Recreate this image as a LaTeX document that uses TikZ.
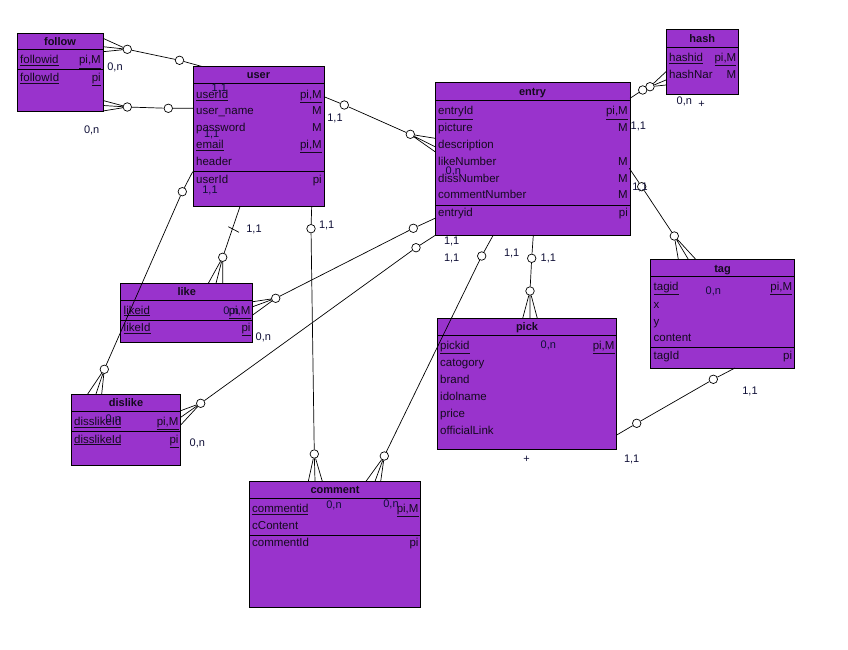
\documentclass[tikz,border=0pt]{standalone}
\usepackage{fontspec}
\setmainfont{Liberation Sans}
\definecolor{entfill}{RGB}{153,51,204}
\definecolor{txt}{RGB}{20,10,30}
\definecolor{lblc}{RGB}{15,15,55}
\newcommand\ELeft[4]{\node[att] (#1) at (#2,#3) {#4};}
\newcommand\ERight[4]{\node[attr] (#1) at (#2,#3) {#4};}
\newcommand\ELbl[4]{\node[lbl] (#1) at (#2,#3) {#4};}
\begin{document}
\begin{tikzpicture}[x=1pt,y=-1pt,
  ent/.style={draw=black, fill=entfill, line width=1pt, inner sep=0pt, outer sep=0pt, anchor=north west},
  divl/.style={line width=1pt},
  etitle/.style={font=\fontsize{11}{12}\selectfont\bfseries, anchor=base, yshift=-4pt, inner sep=0pt, text=txt},
  att/.style={font=\fontsize{11.5}{12}\selectfont, anchor=base west, yshift=-4pt, inner sep=0pt, text=txt},
  attr/.style={att, anchor=base east},
  lbl/.style={font=\fontsize{11}{12}\selectfont, anchor=base, yshift=-4pt, inner sep=0pt, text=lblc},
  circ/.style={circle, draw=black, fill=white, minimum size=8.5pt, inner sep=0pt, line width=0.7pt},
  rel/.style={line width=0.7pt, draw=black},
]
\fill[white] (0,0) rectangle (848,650);
\useasboundingbox (0,0) rectangle (848,650);

% ---------- follow ----------
\node[ent, minimum width=86pt, minimum height=78pt] (follow) at (17,34) {};
\draw[divl] (17,50) -- (103,50);
\draw[divl] (17,70) -- (103,70);
\node[etitle] (followT) at (60,42) {follow};
\ELeft{fo1}{20}{60}{\underline{followid}}
\ERight{fo1r}{101}{60}{\underline{pi,M}}
\ELeft{fo2}{20}{77.5}{\underline{followId}}
\ERight{fo2r}{101}{77.5}{\underline{pi}}

% ---------- user ----------
\node[ent, minimum width=131pt, minimum height=140pt] (user) at (193,66.5) {};
\draw[divl] (193,83.5) -- (324,83.5);
\draw[divl] (193,171.7) -- (324,171.7);
\node[etitle] (userT) at (258.5,75) {user};
\ELeft{us1}{196}{94.3}{\underline{userId}}
\ERight{us1r}{322}{94.3}{\underline{pi,M}}
\ELeft{us2}{196}{111}{user\_name}
\ERight{us2r}{322}{111}{M}
\ELeft{us3}{196}{127.7}{password}
\ERight{us3r}{322}{127.7}{M}
\ELeft{us4}{196}{144.6}{\underline{email}}
\ERight{us4r}{322}{144.6}{\underline{pi,M}}
\ELeft{us5}{196}{161.3}{header}
\ELeft{us6}{196}{179}{userId}
\ERight{us6r}{322}{179}{pi}

% ---------- entry ----------
\node[ent, minimum width=195pt, minimum height=152pt] (entry) at (435,83) {};
\draw[divl] (435,100.5) -- (630,100.5);
\draw[divl] (435,205.5) -- (630,205.5);
\node[etitle] (entryT) at (532.5,91.5) {entry};
\ELeft{en1}{438}{111}{\underline{entryId}}
\ERight{en1r}{628}{111}{\underline{pi,M}}
\ELeft{en2}{438}{127.7}{picture}
\ERight{en2r}{628}{127.7}{M}
\ELeft{en3}{438}{144.5}{description}
\ELeft{en4}{438}{161.3}{likeNumber}
\ERight{en4r}{628}{161.3}{M}
\ELeft{en5}{438}{178}{dissNumber}
\ERight{en5r}{628}{178}{M}
\ELeft{en6}{438}{194.8}{commentNumber}
\ERight{en6r}{628}{194.8}{M}
\ELeft{en7}{438}{212.5}{entryid}
\ERight{en7r}{628}{212.5}{pi}

% ---------- hash ----------
\node[ent, minimum width=72.5pt, minimum height=64.3pt] (hash) at (666,30) {};
\draw[divl] (666,47.5) -- (738.5,47.5);
\node[etitle] (hashT) at (702.3,38.7) {hash};
\ELeft{ha1}{669}{57.7}{\underline{hashid}}
\ERight{ha1r}{736.5}{57.7}{\underline{pi,M}}
\ELeft{ha2}{669}{75}{hashNar}
\ERight{ha2r}{736.5}{75}{M}

% ---------- like ----------
\node[ent, minimum width=132pt, minimum height=59.4pt] (like) at (120.7,283.3) {};
\draw[divl] (120.7,300) -- (252.7,300);
\draw[divl] (120.7,320) -- (252.7,320);
\node[etitle] (likeT) at (186.7,291.7) {like};
\ELeft{li1}{123.5}{310}{\underline{likeid}}
\ERight{li1r}{250.7}{310}{\underline{pi,M}}
\ELeft{li2}{123.5}{327.7}{\underline{likeId}}
\ERight{li2r}{250.7}{327.7}{\underline{pi}}

% ---------- dislike ----------
\node[ent, minimum width=109.4pt, minimum height=71.3pt] (dislike) at (71.3,394) {};
\draw[divl] (71.3,411.3) -- (180.7,411.3);
\draw[divl] (71.3,431.3) -- (180.7,431.3);
\node[etitle] (dislikeT) at (126,402.7) {dislike};
\ELeft{di1}{74}{421.7}{\underline{disslikeId}}
\ERight{di1r}{178.7}{421.7}{\underline{pi,M}}
\ELeft{di2}{74}{439}{\underline{disslikeId}}
\ERight{di2r}{178.7}{439}{\underline{pi}}

% ---------- tag ----------
\node[ent, minimum width=143.6pt, minimum height=108.7pt] (tag) at (650.7,259.3) {};
\draw[divl] (650.7,276.7) -- (794.3,276.7);
\draw[divl] (650.7,347.3) -- (794.3,347.3);
\node[etitle] (tagT) at (722.5,268) {tag};
\ELeft{ta1}{653.5}{286.7}{\underline{tagid}}
\ERight{ta1r}{792.3}{286.7}{\underline{pi,M}}
\ELeft{ta2}{653.5}{304}{x}
\ELeft{ta3}{653.5}{321}{y}
\ELeft{ta4}{653.5}{337.7}{content}
\ELeft{ta5}{653.5}{355}{tagId}
\ERight{ta5r}{792.3}{355}{pi}

% ---------- pick ----------
\node[ent, minimum width=179.4pt, minimum height=131pt] (pick) at (437.3,318.3) {};
\draw[divl] (437.3,335.3) -- (616.7,335.3);
\node[etitle] (pickT) at (527,326.8) {pick};
\ELeft{pi1}{440}{345.7}{\underline{pickid}}
\ERight{pi1r}{614.7}{345.7}{\underline{pi,M}}
\ELeft{pi2}{440}{362.7}{catogory}
\ELeft{pi3}{440}{379.7}{brand}
\ELeft{pi4}{440}{396.7}{idolname}
\ELeft{pi5}{440}{413.7}{price}
\ELeft{pi6}{440}{430.7}{officialLink}

% ---------- comment ----------
\node[ent, minimum width=171.4pt, minimum height=126pt] (comment) at (249.3,481.3) {};
\draw[divl] (249.3,498.3) -- (420.7,498.3);
\draw[divl] (249.3,535.7) -- (420.7,535.7);
\node[etitle] (commentT) at (335,489.8) {comment};
\ELeft{co1}{252}{508.3}{\underline{commentid}}
\ERight{co1r}{418.7}{508.3}{\underline{pi,M}}
\ELeft{co2}{252}{525.3}{cContent}
\ELeft{co3}{252}{542.7}{commentId}
\ERight{co3r}{418.7}{542.7}{pi}

% ================= relationships =================
% R1 follow - user (top)
\coordinate (r1s) at (202,66.5);
\node[circ] (r1b) at (179.5,60.3) {};
\node[circ] (r1a) at (127.3,49.3) {};
\coordinate (r1f1) at (103,38.3);
\coordinate (r1f2) at (103,46.7);
\coordinate (r1f3) at (103,51.7);
\draw[rel] (r1s) -- (r1b) -- (r1a);
\draw[rel] (r1a) -- (r1f1) (r1a) -- (r1f2) (r1a) -- (r1f3);

% R2 follow - user (bottom)
\coordinate (r2s) at (193,108.3);
\node[circ] (r2b) at (168.3,108.3) {};
\node[circ] (r2a) at (127.3,107) {};
\coordinate (r2f1) at (103,100.5);
\coordinate (r2f2) at (103,105.5);
\coordinate (r2f3) at (103,111);
\draw[rel] (r2s) -- (r2b) -- (r2a);
\draw[rel] (r2a) -- (r2f1) (r2a) -- (r2f2) (r2a) -- (r2f3);

% R3 user - entry
\coordinate (r3s) at (324,96.7);
\node[circ] (r3a) at (344.3,105) {};
\node[circ] (r3b) at (410.3,134.3) {};
\coordinate (r3f1) at (435,138.3);
\coordinate (r3f2) at (435,146.7);
\coordinate (r3f3) at (435,151.7);
\draw[rel] (r3s) -- (r3a) -- (r3b);
\draw[rel] (r3b) -- (r3f1) (r3b) -- (r3f2) (r3b) -- (r3f3);

% R4 user - like
\coordinate (r4s) at (240,206.5);
\node[circ] (r4a) at (222.7,257.3) {};
\coordinate (r4t1) at (228.3,226.7);
\coordinate (r4t2) at (239,232.3);
\coordinate (r4f1) at (208.3,283.3);
\coordinate (r4f2) at (216,283.3);
\coordinate (r4f3) at (222.7,283.3);
\draw[rel] (r4s) -- (r4a);
\draw[rel] (r4t1) -- (r4t2);
\draw[rel] (r4a) -- (r4f1) (r4a) -- (r4f2) (r4a) -- (r4f3);

% R5 user - comment
\coordinate (r5s) at (311.7,206.5);
\node[circ] (r5a) at (311,228.7) {};
\node[circ] (r5b) at (314.3,454) {};
\coordinate (r5f1) at (308.3,481.3);
\coordinate (r5f2) at (315,481.3);
\coordinate (r5f3) at (322.3,481.3);
\draw[rel] (r5s) -- (r5a) -- (r5b);
\draw[rel] (r5b) -- (r5f1) (r5b) -- (r5f2) (r5b) -- (r5f3);

% R6 user - dislike
\coordinate (r6s) at (192.7,171.7);
\node[circ] (r6a) at (182.3,191.7) {};
\node[circ] (r6b) at (104.3,369.3) {};
\coordinate (r6f1) at (87.7,394);
\coordinate (r6f2) at (96,394);
\coordinate (r6f3) at (101.7,394);
\draw[rel] (r6s) -- (r6a) -- (r6b);
\draw[rel] (r6b) -- (r6f1) (r6b) -- (r6f2) (r6b) -- (r6f3);

% R7 entry - like
\coordinate (r7s) at (435,218.3);
\node[circ] (r7a) at (413.3,228.3) {};
\node[circ] (r7b) at (275.7,298.3) {};
\coordinate (r7f1) at (252.7,301.7);
\coordinate (r7f2) at (252.7,306.7);
\coordinate (r7f3) at (252.7,315);
\draw[rel] (r7s) -- (r7a) -- (r7b);
\draw[rel] (r7b) -- (r7f1) (r7b) -- (r7f2) (r7b) -- (r7f3);

% R8 entry - dislike
\coordinate (r8s) at (435,235.5);
\node[circ] (r8a) at (416,247.7) {};
\node[circ] (r8b) at (200.7,403.3) {};
\coordinate (r8f1) at (180.7,410.7);
\coordinate (r8f2) at (180.7,417.3);
\coordinate (r8f3) at (180.7,425);
\draw[rel] (r8s) -- (r8a) -- (r8b);
\draw[rel] (r8b) -- (r8f1) (r8b) -- (r8f2) (r8b) -- (r8f3);

% R9 entry - comment
\coordinate (r9s) at (493.3,235);
\node[circ] (r9a) at (481.7,256) {};
\node[circ] (r9b) at (384.3,456) {};
\coordinate (r9f1) at (366,481.3);
\coordinate (r9f2) at (375,481.3);
\coordinate (r9f3) at (380.7,481.3);
\draw[rel] (r9s) -- (r9a) -- (r9b);
\draw[rel] (r9b) -- (r9f1) (r9b) -- (r9f2) (r9b) -- (r9f3);

% R10 entry - pick
\coordinate (r10s) at (533.3,235);
\node[circ] (r10a) at (531.7,258.3) {};
\node[circ] (r10b) at (530,291) {};
\coordinate (r10f1) at (522.7,318.3);
\coordinate (r10f2) at (530,318.3);
\coordinate (r10f3) at (537.3,318.3);
\draw[rel] (r10s) -- (r10a) -- (r10b);
\draw[rel] (r10b) -- (r10f1) (r10b) -- (r10f2) (r10b) -- (r10f3);

% R11 entry - tag
\coordinate (r11s) at (629.3,168.3);
\node[circ] (r11a) at (641.7,186.7) {};
\node[circ] (r11b) at (674.3,236) {};
\coordinate (r11f1) at (678.3,259.3);
\coordinate (r11f2) at (688.3,259.3);
\coordinate (r11f3) at (695.7,259.3);
\draw[rel] (r11s) -- (r11a) -- (r11b);
\draw[rel] (r11b) -- (r11f1) (r11b) -- (r11f2) (r11b) -- (r11f3);

% R12 entry - hash
\coordinate (r12s) at (630,98.3);
\node[circ] (r12a) at (642.7,90) {};
\node[circ] (r12b) at (650,86.7) {};
\coordinate (r12f1) at (666,71.7);
\coordinate (r12f2) at (666,80);
\coordinate (r12f3) at (666,85);
\draw[rel] (r12s) -- (r12a);
\draw[rel] (r12b) -- (r12f1) (r12b) -- (r12f2) (r12b) -- (r12f3);

% R13 pick - tag
\coordinate (r13s) at (616.7,435);
\node[circ] (r13a) at (636.7,423.3) {};
\node[circ] (r13b) at (713.3,379.3) {};
\coordinate (r13e) at (735,368);
\draw[rel] (r13s) -- (r13a) -- (r13b) -- (r13e);

% ================= labels =================
\ELbl{l1}{115}{66.7}{0,n}
\ELbl{l2}{91.7}{130}{0,n}
\ELbl{l3}{219.3}{87.7}{1,1}
\ELbl{l4}{211.7}{133.3}{1,1}
\ELbl{l5}{210}{189.3}{1,1}
\ELbl{l6}{335}{117.7}{1,1}
\ELbl{l7}{453.3}{170}{0,n}
\ELbl{l8}{638.3}{125}{1,1}
\ELbl{l9}{684.3}{101}{0,n}
\ELbl{l10}{701.7}{104}{+}
\ELbl{l11}{640}{186}{1,1}
\ELbl{l12}{254}{228.3}{1,1}
\ELbl{l13}{326.7}{224}{1,1}
\ELbl{l14}{451.7}{240}{1,1}
\ELbl{l15}{451.7}{257.3}{1,1}
\ELbl{l16}{511.7}{252.7}{1,1}
\ELbl{l17}{548.3}{257.3}{1,1}
\ELbl{l18}{231}{310}{0,n}
\ELbl{l19}{263.3}{336.7}{0,n}
\ELbl{l20}{713.3}{290.7}{0,n}
\ELbl{l21}{548.3}{344}{0,n}
\ELbl{l22}{113.3}{418.3}{0,n}
\ELbl{l23}{197.3}{442.7}{0,n}
\ELbl{l24}{334}{504.3}{0,n}
\ELbl{l25}{391}{503.3}{0,n}
\ELbl{l26}{750}{390.7}{1,1}
\ELbl{l27}{631.7}{458.7}{1,1}
\ELbl{l28}{526.7}{458.7}{+}
\end{tikzpicture}
\end{document}
